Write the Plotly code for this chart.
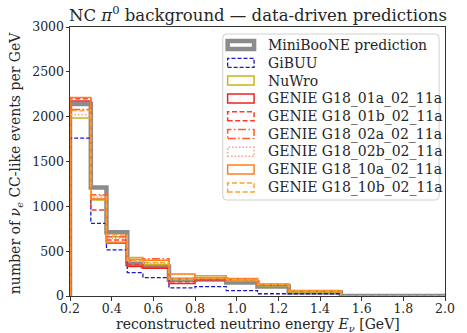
import plotly.graph_objects as go

# ---------------- data ----------------
edges = [0.2, 0.3, 0.375, 0.475, 0.55, 0.675, 0.8, 0.95, 1.1, 1.25, 1.5, 3.0]

series_names = [
    "MiniBooNE prediction", "GiBUU", "NuWro",
    "GENIE G18_01a_02_11a", "GENIE G18_01b_02_11a", "GENIE G18_02a_02_11a",
    "GENIE G18_02b_02_11a", "GENIE G18_10a_02_11a", "GENIE G18_10b_02_11a",
]
miniboone = [2140, 1210, 710, 360, 330, 180, 185, 150, 105, 40, 0]
gibuu     = [1760, 810, 515, 260, 205, 90, 105, 60, 25, 25, 0]
nuwro     = [1985, 1070, 660, 430, 350, 185, 225, 170, 115, 45, 0]
g01a      = [2175, 1080, 590, 330, 310, 140, 180, 190, 125, 55, 0]
g01b      = [2200, 960, 625, 350, 320, 160, 185, 185, 125, 55, 0]
g02a      = [2080, 1130, 660, 400, 415, 190, 200, 185, 130, 55, 0]
g02b      = [2020, 1100, 640, 390, 365, 240, 195, 180, 125, 55, 0]
g10a      = [2215, 1080, 600, 410, 400, 245, 205, 195, 135, 60, 0]
g10b      = [2070, 1120, 680, 395, 375, 190, 195, 185, 130, 55, 0]
values = [miniboone, gibuu, nuwro, g01a, g01b, g02a, g02b, g10a, g10b]

x_ticks = [0.2, 0.4, 0.6, 0.8, 1.0, 1.2, 1.4, 1.6, 1.8, 2.0]
x_ticktext = ["0.2", "0.4", "0.6", "0.8", "1.0", "1.2", "1.4", "1.6", "1.8", "2.0"]
y_ticks = [0, 500, 1000, 1500, 2000, 2500, 3000]

# ---------------- styles ----------------
colors = ["#8c8c8c", "#1a1ac8", "#c8b41e", "#ee2222", "#ff3a2a", "#ff5a32",
          "#ff9c84", "#ff8020", "#ffa030"]
widths = [4.5, 1.3, 1.5, 1.5, 1.5, 1.5, 1.5, 1.5, 1.5]
dashes = ["solid", "4px,2px", "solid", "solid", "5px,2.5px", "8px,2.5px,1.5px,2.5px",
          "1.5px,2px", "solid", "5px,2.5px"]

W, H = 467, 333
L, R, T, B = 70, 14, 27, 37
pw, ph = W - L - R, H - T - B
SERIF = "DejaVu Serif"


def px2paper(x, y):
    return (x - L) / pw, (H - B - y) / ph


fig = go.Figure()
for name, vals, c, w, d in zip(series_names, values, colors, widths, dashes):
    xs = [edges[0]] + edges[:-1] + [edges[-1]]
    ys = [0] + vals + [0]
    fig.add_trace(go.Scatter(x=xs, y=ys, mode="lines", line_shape="hv",
                             line=dict(color=c, width=w, dash=d),
                             name=name, showlegend=False, hoverinfo="skip"))

shapes = []
annotations = []

# legend box (rounded)
bx0, by0 = px2paper(226, 200)
bx1, by1 = px2paper(447, 34)
rx, ry = 4 / pw, 4 / ph
path = (f"M {bx0+rx},{by1} L {bx1-rx},{by1} Q {bx1},{by1} {bx1},{by1-ry} "
        f"L {bx1},{by0+ry} Q {bx1},{by0} {bx1-rx},{by0} L {bx0+rx},{by0} "
        f"Q {bx0},{by0} {bx0},{by0+ry} L {bx0},{by1-ry} Q {bx0},{by1} {bx0+rx},{by1} Z")
shapes.append(dict(type="path", xref="paper", yref="paper", path=path,
                   line=dict(color="#d0d0d0", width=1), fillcolor="rgba(255,255,255,0.85)"))

for i, (name, c, w, d) in enumerate(zip(series_names, colors, widths, dashes)):
    yc = 45 + i * 17.8
    hh = 4.0 if i == 0 else 4.5
    x0, y0 = px2paper(231, yc + hh)
    x1, y1 = px2paper(258, yc - hh)
    shapes.append(dict(type="rect", xref="paper", yref="paper", x0=x0, x1=x1, y0=y0, y1=y1,
                       line=dict(color=c, width=w, dash=d), fillcolor="rgba(0,0,0,0)"))
    tx, ty = px2paper(270, yc)
    annotations.append(dict(x=tx, y=ty, xref="paper", yref="paper", text=name,
                            showarrow=False, xanchor="left", yanchor="middle",
                            font=dict(family=SERIF, size=14, color="#262626")))

# title
tx, ty = px2paper(261.5, 14)
annotations.append(dict(x=tx, y=ty, xref="paper", yref="paper",
                        text="NC <i>π</i><sup>0</sup> background — data-driven predictions",
                        showarrow=False, xanchor="center", yanchor="middle",
                        font=dict(family=SERIF, size=16.5, color="#262626")))
# x label
tx, ty = px2paper(261.5, 325)
annotations.append(dict(x=tx, y=ty, xref="paper", yref="paper",
                        text="reconstructed neutrino energy <i>E</i><sub><i>ν</i></sub> [GeV]",
                        showarrow=False, xanchor="center", yanchor="middle",
                        font=dict(family=SERIF, size=14, color="#262626")))
# y label
tx, ty = px2paper(15, 163)
annotations.append(dict(x=tx, y=ty, xref="paper", yref="paper",
                        text="number of <i>ν</i><sub><i>e</i></sub> CC-like events per GeV",
                        textangle=-90,
                        showarrow=False, xanchor="center", yanchor="middle",
                        font=dict(family=SERIF, size=14, color="#262626")))

axis_common = dict(showline=True, linecolor="#333", linewidth=1, mirror=True,
                   ticks="outside", ticklen=3.5, tickcolor="#333", tickwidth=1,
                   showgrid=False, zeroline=False,
                   tickfont=dict(family=SERIF, size=12.5, color="#262626"))

fig.update_layout(
    width=W, height=H,
    margin=dict(l=L, r=R, t=T, b=B, pad=0),
    paper_bgcolor="white", plot_bgcolor="white",
    showlegend=False,
    xaxis=dict(range=[0.2, 2.0], tickvals=x_ticks, ticktext=x_ticktext,
               ticklabelstandoff=-3, **axis_common),
    yaxis=dict(range=[0, 3000], tickvals=y_ticks, ticklabelstandoff=-1, **axis_common),
    shapes=shapes, annotations=annotations,
)

fig.write_html("out.html")
